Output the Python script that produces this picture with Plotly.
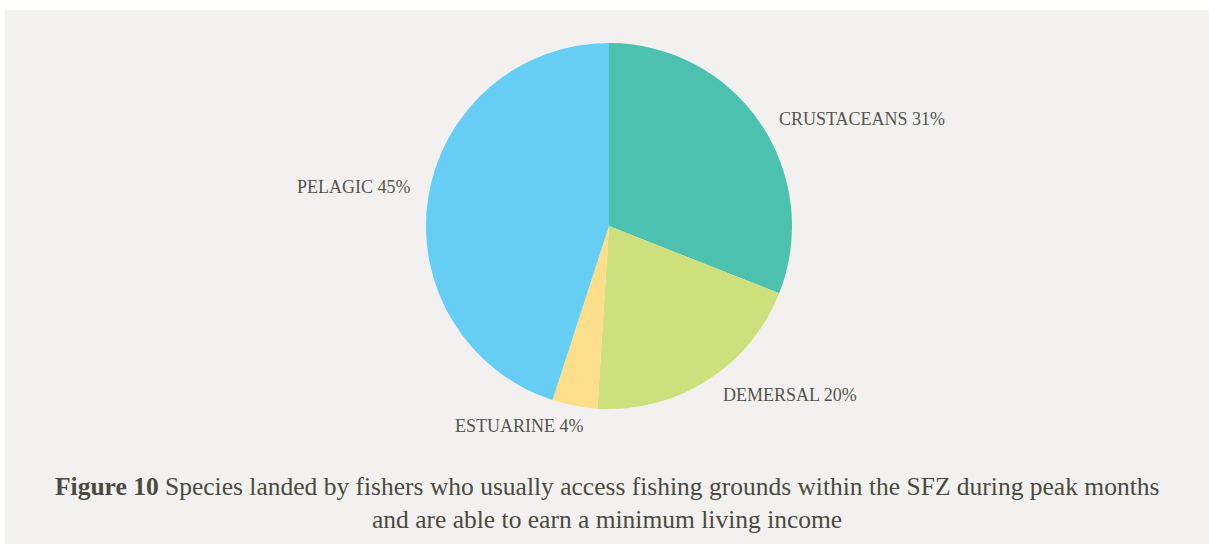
import plotly.graph_objects as go

categories = ["CRUSTACEANS", "DEMERSAL", "ESTUARINE", "PELAGIC"]
values = [31, 20, 4, 45]
colors = ["#4cc1b0", "#cde07c", "#fdde8a", "#66cef5"]

W, H = 1209, 544
cx, cy, r = 609, 226, 183

fig = go.Figure(go.Pie(
    labels=categories, values=values, sort=False, direction="clockwise",
    rotation=0, marker=dict(colors=colors, line=dict(width=0)),
    textinfo="none", hoverinfo="label+percent", showlegend=False,
    domain=dict(x=[(cx - r) / W, (cx + r) / W], y=[1 - (cy + r) / H, 1 - (cy - r) / H]),
))

label_pos = [
    (777, 119, "left"),
    (721, 395, "left"),
    (586, 426, "right"),
    (413, 187, "right"),
]
annotations = []
for (x, y, anc), cat, v in zip(label_pos, categories, values):
    annotations.append(dict(
        x=x / W, y=1 - y / H, xref="paper", yref="paper", xanchor=anc, yanchor="middle",
        text=f"{cat} {v}%", showarrow=False,
        font=dict(family="Liberation Serif", size=18, color="#55554d"),
    ))

cap_font = dict(family="Liberation Serif", size=25.5, color="#4a4a40")
annotations.append(dict(
    x=0.5 + 2 / W, y=1 - 486 / H, xref="paper", yref="paper", xanchor="center", yanchor="middle",
    text="<b>Figure 10</b> Species landed by fishers who usually access fishing grounds within the SFZ during peak months",
    showarrow=False, font=cap_font,
))
annotations.append(dict(
    x=0.5 + 2 / W, y=1 - 519 / H, xref="paper", yref="paper", xanchor="center", yanchor="middle",
    text="and are able to earn a minimum living income",
    showarrow=False, font=cap_font,
))

fig.update_layout(
    width=W, height=H, margin=dict(l=0, r=0, t=0, b=0),
    paper_bgcolor="white", plot_bgcolor="white",
    annotations=annotations,
    shapes=[dict(type="rect", xref="paper", yref="paper", x0=5 / W, x1=1, y0=0, y1=1 - 10 / H,
                 fillcolor="#f2f1ef", line=dict(width=0), layer="below")],
)
fig.write_html("out.html")
